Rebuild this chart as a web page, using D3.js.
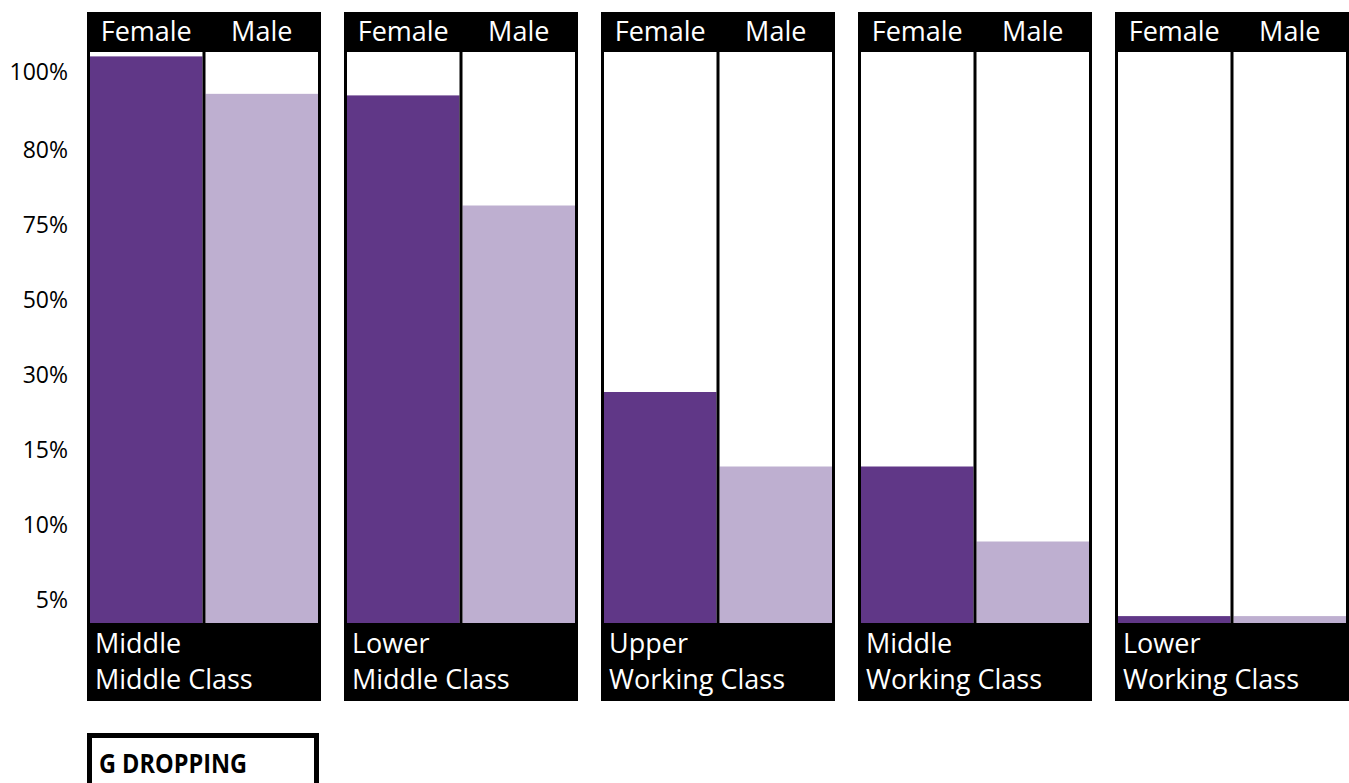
<!DOCTYPE html>
<html>
<head>
<meta charset="utf-8">
<script src="https://cdn.jsdelivr.net/npm/d3@7"></script>
<style>
  html, body { margin: 0; padding: 0; background: #fff; }
  svg { display: block; font-family: "Open Sans", "DejaVu Sans", sans-serif; }
</style>
</head>
<body>
<svg id="chart" width="1349" height="783"></svg>
<script>
// classes along the bottom, two lines each
const classes = ["MMC", "LMC", "UWC", "MWC", "LWC"];
const classLabels = [
  ["Middle", "Middle Class"],
  ["Lower", "Middle Class"],
  ["Upper", "Working Class"],
  ["Middle", "Working Class"],
  ["Lower", "Working Class"]
];
const sexes = ["Female", "Male"];
const femaleValues = [104, 94, 26.6, 13.9, 1.5];
const maleValues   = [94.4, 76.3, 13.9, 8.9, 1.5];

// the axis is not linear: labels are spaced evenly
const tickValues = [5, 10, 15, 30, 50, 75, 80, 100];
const axisKnots  = [0, 5, 10, 15, 30, 50, 75, 80, 100];

const colors = { Female: "#603787", Male: "#beafd0" };

const svg = d3.select("#chart");

const plotTop = 52, plotBottom = 623;
const headerTop = 12, footerBottom = 701;

const y = d3.scaleLinear()
  .domain(axisKnots)
  .range([plotBottom, 600, 525, 450, 375, 300, 225, 150, 72]);

const x = d3.scaleBand()
  .domain(classes)
  .range([87, 1349])
  .paddingInner(23 / 257)
  .paddingOuter(0);

const border = 3;
const panelW = x.bandwidth();
const inner = d3.scaleBand()
  .domain(sexes)
  .range([border, panelW - border])
  .paddingInner(border / ((panelW - border) / 2));

// ── y axis labels ─────────────────────────────────────────────
const yAxis = d3.axisLeft(y)
  .tickValues(tickValues)
  .tickSize(0)
  .tickPadding(0)
  .tickFormat(d => d + "%");

svg.append("g")
  .attr("transform", "translate(68,0)")
  .call(yAxis)
  .call(g => g.select(".domain").remove())
  .selectAll("text")
  .attr("font-family", "'Open Sans', sans-serif")
  .attr("font-size", 23)
  .attr("fill", "#000");

// ── panels ───────────────────────────────────────────────────
const rows = classes.map((c, i) => ({
  key: c,
  label: classLabels[i],
  values: [
    { sex: "Female", value: femaleValues[i] },
    { sex: "Male", value: maleValues[i] }
  ]
}));

const panel = svg.selectAll("g.panel")
  .data(rows)
  .join("g")
  .attr("class", "panel")
  .attr("transform", d => `translate(${x(d.key)},0)`);

// plot background
panel.append("rect")
  .attr("x", 0).attr("y", plotTop)
  .attr("width", panelW).attr("height", plotBottom - plotTop)
  .attr("fill", "#fff");

// bars
panel.selectAll("rect.bar")
  .data(d => d.values)
  .join("rect")
  .attr("class", "bar")
  .attr("x", d => inner(d.sex))
  .attr("width", inner.bandwidth())
  .attr("y", d => y(d.value))
  .attr("height", d => plotBottom - y(d.value))
  .attr("fill", d => colors[d.sex]);

// frame: left, divider, right
panel.selectAll("rect.edge")
  .data([0, inner("Male") - border, panelW - border])
  .join("rect")
  .attr("class", "edge")
  .attr("x", d => d)
  .attr("y", plotTop)
  .attr("width", border)
  .attr("height", plotBottom - plotTop)
  .attr("fill", "#000");

// header band
panel.append("rect")
  .attr("x", 0).attr("y", headerTop)
  .attr("width", panelW).attr("height", plotTop - headerTop)
  .attr("fill", "#000");

panel.selectAll("text.sex")
  .data(sexes)
  .join("text")
  .attr("class", "sex")
  .attr("x", d => inner(d) + inner.bandwidth() / 2)
  .attr("y", 41)
  .attr("text-anchor", "middle")
  .attr("font-size", 27)
  .attr("fill", "#fff")
  .text(d => d);

// footer band with class name
panel.append("rect")
  .attr("x", 0).attr("y", plotBottom)
  .attr("width", panelW).attr("height", footerBottom - plotBottom)
  .attr("fill", "#000");

panel.selectAll("text.cls")
  .data(d => d.label)
  .join("text")
  .attr("class", "cls")
  .attr("x", 8)
  .attr("y", (d, i) => 653 + i * 36)
  .attr("font-size", 27)
  .attr("fill", "#fff")
  .text(d => d);

// ── legend-like box ──────────────────────────────────────────
svg.append("rect")
  .attr("x", 89.5).attr("y", 735.5)
  .attr("width", 227).attr("height", 70)
  .attr("fill", "#fff")
  .attr("stroke", "#000")
  .attr("stroke-width", 5);

svg.append("text")
  .attr("x", 99).attr("y", 773)
  .attr("font-size", 27)
  .attr("font-weight", "bold")
  .attr("textLength", 148)
  .attr("lengthAdjust", "spacingAndGlyphs")
  .attr("fill", "#000")
  .text("G DROPPING");
</script>
</body>
</html>
